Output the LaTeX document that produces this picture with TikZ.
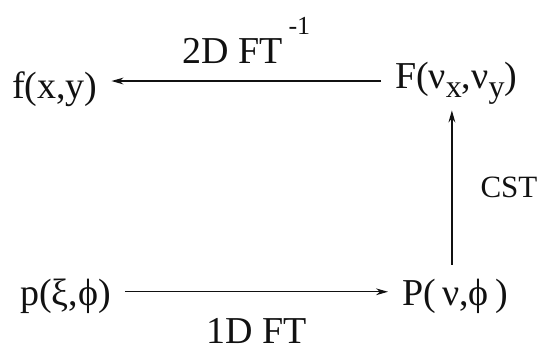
\documentclass[tikz,border=0pt]{standalone}
\usepackage{fontspec}
\setmainfont{Liberation Serif}
\usetikzlibrary{arrows.meta, positioning}
\definecolor{cink}{HTML}{111111}
\newcommand{\lowidx}[1]{\raisebox{-0.25em}{\fontsize{16}{18}\selectfont #1}}
\tikzset{
  every picture/.style={font=\rmfamily\fontsize{19}{23}\selectfont, line width=0.6pt},
  term/.style={inner sep=0pt, outer sep=7pt, anchor=base west, text=cink},
  tag/.style={inner sep=0pt, text=cink},
  arrow/.style={-{Stealth[length=6pt, width=3.4pt]}, draw=cink},
}

\begin{document}
\begin{tikzpicture}[x=0.5pt, y=-0.5pt]
  \useasboundingbox (0,0) rectangle (540,350);
  % anchors carry the outer sep, so x is 14 left of the text
  \node[term] (fxy) at (-2, 98) {f(x,y)};
  \node[term] (Fnu) at (381, 88) {F(ν\lowidx{x},ν\lowidx{y})};
  \node[term] (pxi) at (6, 305) {p(ξ,ϕ)};
  \node[term] (Pnu) at (388, 305) {P(\,ν,ϕ\,)};
  \draw[arrow] ([yshift=1pt]Fnu.west) -- ([yshift=1pt]Fnu.west -| fxy.east)
    node[tag, midway, above=8.5pt] {2D FT\hspace{3pt}\raisebox{0.75em}{\fontsize{13}{15}\selectfont -1}};
  \draw[arrow] ([yshift=2pt]pxi.east) -- ([yshift=2pt]pxi.east -| Pnu.west)
    node[tag, midway, below=13pt] {1D FT};
  \draw[arrow] ([xshift=-1.5pt]Pnu.north) -- ([xshift=-1.5pt, yshift=4pt]Pnu.north |- Fnu.south)
    node[tag, midway, right=14pt, font=\rmfamily\fontsize{15.5}{18}\selectfont] {CST};
\end{tikzpicture}
\end{document}
